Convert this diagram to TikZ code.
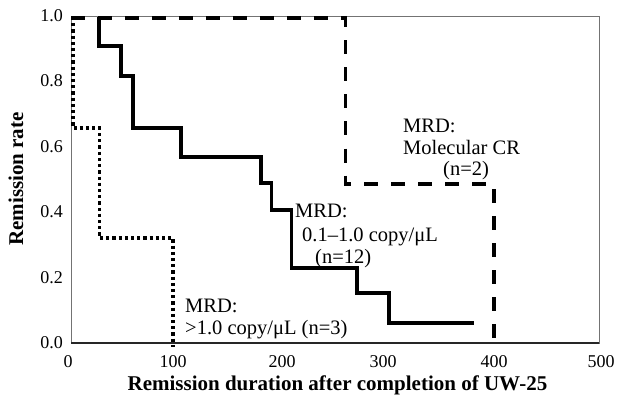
\documentclass[tikz,border=0pt]{standalone}
\usepackage{fontspec}
\setmainfont{Liberation Serif}
\begin{document}
\begin{tikzpicture}[x=1pt,y=-1pt,
  frame/.style={draw=black!55, line width=1pt},
  baseaxis/.style={draw=black!85, line width=1.8pt},
  kmsolid/.style={line width=3.5pt, line join=miter},
  kmdashed/.style={line width=3.8pt, dash pattern=on 14pt off 13pt},
  kmdotted/.style={line width=3.3pt, dash pattern=on 3.2pt off 3pt},
  ticklab/.style={font=\fontsize{18}{20}\selectfont, inner sep=0pt},
  ann/.style={font=\fontsize{20.5}{22}\selectfont, inner sep=0pt, anchor=base west},
  axlabel/.style={font=\fontsize{21}{24}\selectfont\bfseries, inner sep=0pt, anchor=base}]
\useasboundingbox (0,0) rectangle (617,398);
% frame
\draw[frame] (71,17) rectangle (599,343);
\draw[baseaxis] (71,343) -- (599,343);
% y tick labels
\node[ticklab, anchor=east] (y10) at (63,16) {1.0};
\node[ticklab, anchor=east] (y08) at (63,81) {0.8};
\node[ticklab, anchor=east] (y06) at (63,147) {0.6};
\node[ticklab, anchor=east] (y04) at (63,212) {0.4};
\node[ticklab, anchor=east] (y02) at (63,278) {0.2};
\node[ticklab, anchor=east] (y00) at (63,343) {0.0};
% x tick labels
\node[ticklab] (x0) at (68,362) {0};
\node[ticklab] (x100) at (173,362) {100};
\node[ticklab] (x200) at (282,362) {200};
\node[ticklab] (x300) at (383,362) {300};
\node[ticklab] (x400) at (494,362) {400};
\node[ticklab] (x500) at (601,362) {500};
% axis labels
\node[axlabel] (xlab) at (337.5,390) {Remission duration after completion of UW-25};
\node[axlabel, rotate=90] (ylab) at (23,179) {Remission rate};
% curves
\draw[kmdashed] (71,18) -- (345.5,18) -- (345.5,184) -- (494,184) -- (494,338);
\draw[kmsolid] (99,17) -- (99,46) -- (121,46) -- (121,76) -- (133,76) -- (133,128)
  -- (181,128) -- (181,157) -- (261,157) -- (261,183) -- (271.5,183) -- (271.5,210)
  -- (291.5,210) -- (291.5,268) -- (357,268) -- (357,293) -- (389,293) -- (389,323) -- (474,323);
\draw[kmdotted] (73,17) -- (73,128) -- (99.5,128) -- (99.5,238) -- (173,238) -- (173,347);
% annotations
\node[ann] (a1) at (403,132) {MRD:};
\node[ann] (a2) at (403,154) {Molecular CR};
\node[ann] (a3) at (443,175.5) {(n=2)};
\node[ann] (b1) at (295,217.5) {MRD:};
\node[ann] (b2) at (302,241) {0.1–1.0 copy/μL};
\node[ann] (b3) at (315,263.5) {(n=12)};
\node[ann] (c1) at (185,312) {MRD:};
\node[ann] (c2) at (185,334) {>1.0 copy/μL (n=3)};
\end{tikzpicture}
\end{document}
